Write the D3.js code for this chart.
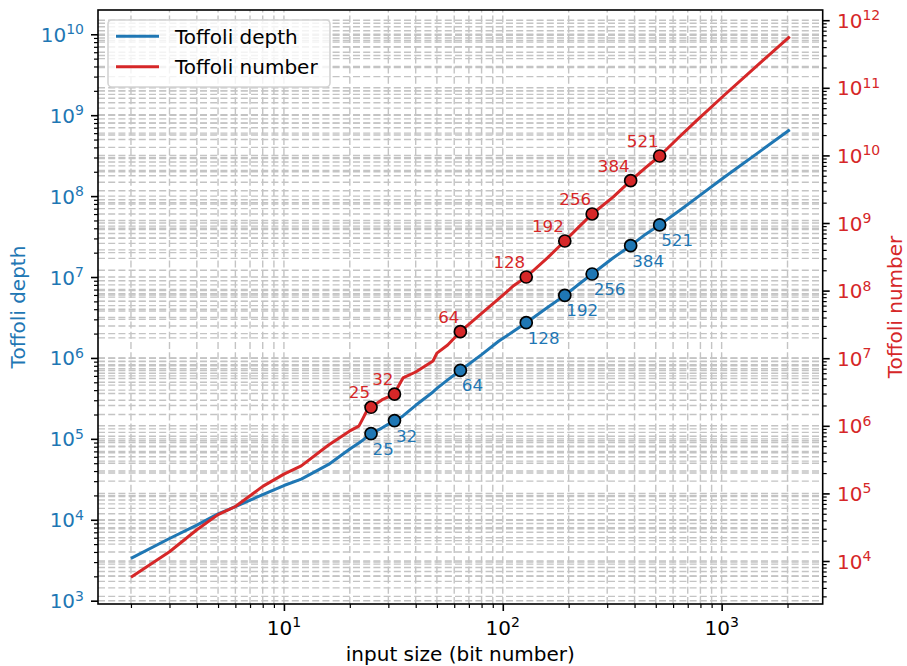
<!DOCTYPE html>
<html>
<head>
<meta charset="utf-8">
<script src="https://cdn.jsdelivr.net/npm/d3@7"></script>
<style>
  body { margin: 0; background: #fff; }
  text { font-family: "DejaVu Sans", sans-serif; }
</style>
</head>
<body>
<svg id="chart" width="907" height="666"></svg>
<script>
// --- data ---
const bits = [2, 3, 4, 5, 6, 8, 10, 12, 16, 20, 22, 23, 24, 25, 28, 32, 33, 35, 40, 48, 50, 56, 64,
  80, 96, 112, 128, 160, 192, 224, 256, 320, 384, 448, 521, 640, 768, 1024, 1536, 2048];
const toffoliDepth = [3330, 5870, 8600, 11800, 14500, 20500, 26500, 31800, 48300, 75000, 89000, 97000, 1.07e5,
  1.16e5, 1.36e5, 1.68e5, 1.74e5, 1.92e5, 2.6e5, 3.8e5, 4.2e5, 5.35e5, 7.0e5,
  1.1e6, 1.62e6, 2.13e6, 2.73e6, 4.2e6, 5.93e6, 8.26e6, 1.09e7, 1.73e7, 2.44e7, 3.36e7, 4.41e7,
  6.6e7, 9.5e7, 1.7e8, 3.75e8, 6.6e8];
const toffoliNumber = [5740, 13700, 29000, 48500, 64000, 1.27e5, 1.93e5, 2.55e5, 5.2e5, 8.4e5, 9.9e5, 1.3e6, 1.7e6,
  1.88e6, 2.41e6, 2.95e6, 3.62e6, 5.1e6, 6.25e6, 9.1e6, 1.19e7, 1.57e7, 2.47e7,
  4.6e7, 7.6e7, 1.18e8, 1.59e8, 3.05e8, 5.42e8, 8.9e8, 1.36e9, 2.43e9, 4.23e9, 6.56e9, 9.8e9,
  1.87e10, 3.27e10, 7.7e10, 2.5e11, 5.7e11];

const markBits = [25, 32, 64, 128, 192, 256, 384, 521];
const markDepth = [1.16e5, 1.68e5, 7.0e5, 2.73e6, 5.93e6, 1.09e7, 2.44e7, 4.41e7];
const markNumber = [1.88e6, 2.95e6, 2.47e7, 1.59e8, 5.42e8, 1.36e9, 4.23e9, 9.8e9];

const xMajorExp = [1, 2, 3];
const leftMajorExp = [3, 4, 5, 6, 7, 8, 9, 10];
const rightMajorExp = [4, 5, 6, 7, 8, 9, 10, 11, 12];

// --- layout ---
const blue = "#1f77b4", red = "#d62728";
const plot = {left: 98, right: 822.7, top: 10, bottom: 604};
const svg = d3.select("#chart");

const x = d3.scaleLog().domain([1.414, 2896]).range([plot.left, plot.right]);
const yL = d3.scaleLog().domain([Math.pow(10, 2.959), Math.pow(10, 10.30)]).range([plot.bottom, plot.top]);
const yR = d3.scaleLog().domain([Math.pow(10, 3.364), Math.pow(10, 12.151)]).range([plot.bottom, plot.top]);

function minors(scale) {
  const [lo, hi] = scale.domain();
  const out = [];
  for (let e = Math.floor(Math.log10(lo)); e <= Math.ceil(Math.log10(hi)); e++)
    for (let k = 2; k <= 9; k++) {
      const v = k * Math.pow(10, e);
      if (v >= lo && v <= hi) out.push(v);
    }
  return out;
}
const pow = e => Math.pow(10, e);

// grid (major + minor, both y axes)
const grid = svg.append("g")
  .attr("stroke", "#c4c4c4").attr("stroke-width", 1.4).attr("stroke-dasharray", "7,3.2").attr("fill", "none");
xMajorExp.map(pow).concat(minors(x)).forEach(v => {
  grid.append("line").attr("x1", x(v)).attr("x2", x(v)).attr("y1", plot.bottom).attr("y2", plot.top);
});
leftMajorExp.map(pow).concat(minors(yL)).forEach(v => {
  grid.append("line").attr("x1", plot.left).attr("x2", plot.right).attr("y1", yL(v)).attr("y2", yL(v));
});
rightMajorExp.map(pow).concat(minors(yR)).forEach(v => {
  grid.append("line").attr("x1", plot.left).attr("x2", plot.right).attr("y1", yR(v)).attr("y2", yR(v));
});

// lines
const lineL = d3.line().x((d, i) => x(bits[i])).y(d => yL(d));
const lineR = d3.line().x((d, i) => x(bits[i])).y(d => yR(d));
svg.append("path").datum(toffoliDepth).attr("d", lineL)
  .attr("fill", "none").attr("stroke", blue).attr("stroke-width", 3).attr("stroke-linejoin", "round");
svg.append("path").datum(toffoliNumber).attr("d", lineR)
  .attr("fill", "none").attr("stroke", red).attr("stroke-width", 3).attr("stroke-linejoin", "round");

// markers + labels
markBits.forEach((b, i) => {
  svg.append("circle").attr("cx", x(b)).attr("cy", yL(markDepth[i])).attr("r", 6)
    .attr("fill", blue).attr("stroke", "#000").attr("stroke-width", 1.7);
  svg.append("text").attr("x", x(b) + 1.5).attr("y", yL(markDepth[i]) + 21)
    .attr("fill", blue).attr("font-size", 16.7).text(b);
  svg.append("circle").attr("cx", x(b)).attr("cy", yR(markNumber[i])).attr("r", 6)
    .attr("fill", red).attr("stroke", "#000").attr("stroke-width", 1.7);
  svg.append("text").attr("x", x(b) - 1).attr("y", yR(markNumber[i]) - 9)
    .attr("text-anchor", "end").attr("fill", red).attr("font-size", 16.7).text(b);
});

// frame
svg.append("rect").attr("x", plot.left).attr("y", plot.top)
  .attr("width", plot.right - plot.left).attr("height", plot.bottom - plot.top)
  .attr("fill", "none").attr("stroke", "#000").attr("stroke-width", 1.6);

// ticks via d3 axes
function ticks(axisFn, scale, values, size, width, transform) {
  const g = svg.append("g").attr("transform", transform)
    .call(axisFn(scale).tickValues(values).tickSize(size).tickFormat(""));
  g.select(".domain").remove();
  g.selectAll(".tick line").attr("stroke", "#000").attr("stroke-width", width);
}
ticks(d3.axisBottom, x, xMajorExp.map(pow), 7, 1.6, `translate(0,${plot.bottom})`);
ticks(d3.axisBottom, x, minors(x), 4, 1.2, `translate(0,${plot.bottom})`);
ticks(d3.axisLeft, yL, leftMajorExp.map(pow), 7, 1.6, `translate(${plot.left},0)`);
ticks(d3.axisLeft, yL, minors(yL), 4, 1.2, `translate(${plot.left},0)`);
ticks(d3.axisRight, yR, rightMajorExp.map(pow), 7, 1.6, `translate(${plot.right},0)`);
ticks(d3.axisRight, yR, minors(yR), 4, 1.2, `translate(${plot.right},0)`);

// power-of-ten tick labels
function powLabel(px, py, e, anchor, color) {
  const t = svg.append("text").attr("x", px).attr("y", py)
    .attr("text-anchor", anchor).attr("fill", color).attr("font-size", 20);
  t.append("tspan").text("10");
  t.append("tspan").attr("font-size", 14).attr("dy", -7.5).text(e);
}
xMajorExp.forEach(e => powLabel(x(pow(e)), 634.5, e, "middle", "#000"));
leftMajorExp.forEach(e => powLabel(84, yL(pow(e)) + 7.5, e, "end", blue));
rightMajorExp.forEach(e => powLabel(837, yR(pow(e)) + 7.5, e, "start", red));

// axis titles
svg.append("text").attr("x", (plot.left + plot.right) / 2).attr("y", 661)
  .attr("text-anchor", "middle").attr("font-size", 20).text("input size (bit number)");
svg.append("text").attr("transform", `translate(25,${(plot.top + plot.bottom) / 2}) rotate(-90)`)
  .attr("text-anchor", "middle").attr("font-size", 20).attr("fill", blue).text("Toffoli depth");
svg.append("text").attr("transform", `translate(902,${(plot.top + plot.bottom) / 2}) rotate(-90)`)
  .attr("text-anchor", "middle").attr("font-size", 20).attr("fill", red).text("Toffoli number");

// legend
const legend = svg.append("g");
legend.append("rect").attr("x", 108).attr("y", 20).attr("width", 222).attr("height", 67).attr("rx", 4)
  .attr("fill", "#fff").attr("fill-opacity", 0.8).attr("stroke", "#d4d4d4").attr("stroke-width", 1.6);
[["Toffoli depth", blue, 36.3], ["Toffoli number", red, 66.7]].forEach(([label, c, ly]) => {
  legend.append("line").attr("x1", 116).attr("x2", 159).attr("y1", ly).attr("y2", ly)
    .attr("stroke", c).attr("stroke-width", 3);
  legend.append("text").attr("x", 175).attr("y", ly + 7.3).attr("font-size", 20).text(label);
});
</script>
</body>
</html>
